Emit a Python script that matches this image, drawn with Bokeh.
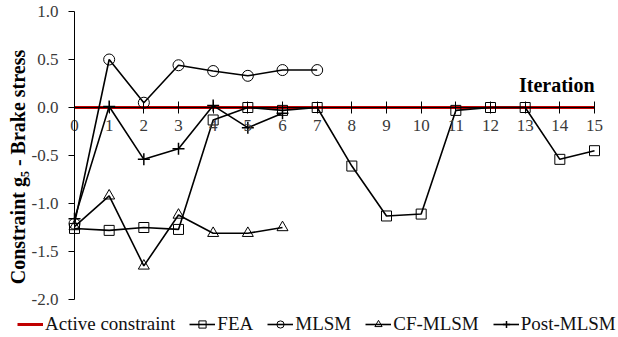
import math
from bokeh.plotting import figure
from bokeh.models import (Range1d, LinearAxis, SingleIntervalTicker, PrintfTickFormatter,
                          Legend, LegendItem, Label)
from bokeh.embed import file_html
from bokeh.resources import INLINE

# ---- data ----
iter_fea = list(range(16))
fea = [-1.26, -1.28, -1.25, -1.27, -0.13, 0.0, -0.03, 0.0, -0.61, -1.13, -1.11, -0.03, 0.0, 0.0, -0.54, -0.45]
iter_mlsm = list(range(8))
mlsm = [-1.21, 0.50, 0.05, 0.44, 0.38, 0.33, 0.39, 0.39]
iter_cf = list(range(7))
cf_mlsm = [-1.24, -0.92, -1.65, -1.12, -1.31, -1.31, -1.25]
iter_post = list(range(7))
post_mlsm = [-1.16, 0.01, -0.54, -0.43, 0.02, -0.21, -0.06]
active_x = [0, 15]
active_y = [0, 0]
x_ticks_interval = 1
y_ticks_interval = 0.5

FONT = "'Liberation Serif'"

p = figure(width=618, height=337, x_range=Range1d(-2.1346, 15.692), y_range=Range1d(-2.3958, 1.1146),
           output_backend="svg", toolbar_location=None, x_axis_type=None, y_axis_type=None,
           min_border_left=0, min_border_right=0, min_border_top=0, min_border_bottom=0)
p.outline_line_color = None
p.xgrid.visible = False
p.ygrid.visible = False
p.background_fill_color = "white"
p.border_fill_color = "white"

xaxis = LinearAxis(ticker=SingleIntervalTicker(interval=x_ticks_interval), fixed_location=0, bounds=(0, 15))
xaxis.major_tick_in = 6
xaxis.major_tick_out = 6
xaxis.minor_tick_line_color = None
xaxis.major_label_standoff = 6
xaxis.major_label_text_font = FONT
xaxis.major_label_text_font_size = "17px"
xaxis.major_label_text_color = "#3a3a3a"
xaxis.axis_line_color = "black"
xaxis.major_tick_line_color = "black"
p.add_layout(xaxis, "below")

yaxis = LinearAxis(ticker=SingleIntervalTicker(interval=y_ticks_interval),
                   formatter=PrintfTickFormatter(format="%.1f"), fixed_location=0, bounds=(-2, 1))
yaxis.major_tick_in = 0
yaxis.major_tick_out = 6
yaxis.minor_tick_line_color = None
yaxis.major_label_standoff = 10
yaxis.major_label_text_font = FONT
yaxis.major_label_text_font_size = "17px"
yaxis.major_label_text_color = "#3a3a3a"
yaxis.axis_line_color = "black"
yaxis.major_tick_line_color = "black"
p.add_layout(yaxis, "left")

r_act = p.line(active_x, active_y, line_color="#c00000", line_width=3)

def series(xs, ys, marker, size, lw=1.0):
    l = p.line(xs, ys, line_color="black", line_width=1.6)
    s = p.scatter(xs, ys, marker=marker, size=size, fill_color=None, line_color="black", line_width=lw)
    return [l, s]

r_fea = series(iter_fea, fea, "square", 10)
r_mlsm = series(iter_mlsm, mlsm, "circle", 11)
r_cf = series(iter_cf, cf_mlsm, "triangle", 11)
r_post = series(iter_post, post_mlsm, "cross", 12, 1.5)

legend = Legend(items=[
    LegendItem(label="Active constraint", renderers=[r_act]),
    LegendItem(label="FEA", renderers=r_fea),
    LegendItem(label="MLSM", renderers=r_mlsm),
    LegendItem(label="CF-MLSM", renderers=r_cf),
    LegendItem(label="Post-MLSM", renderers=r_post),
], orientation="horizontal", location=(17, 2))
legend.label_text_font = FONT
legend.label_text_font_size = "19px"
legend.label_text_color = "#111111"
legend.glyph_width = 26
legend.glyph_height = 18
legend.label_standoff = 2
legend.spacing = 14
legend.padding = 0
legend.margin = 0
legend.border_line_color = None
legend.background_fill_alpha = 0
p.add_layout(legend, "center")

ylab = Label(x=-1.644, y=-0.594, text="Constraint  g\u2085 - Brake stress", angle=math.pi / 2,
             text_align="center", text_baseline="middle", text_font=FONT,
             text_font_size="20px", text_font_style="bold", text_color="black")
p.add_layout(ylab)

xlab = Label(x=15, y=0.12, text="Iteration", text_align="right", text_baseline="bottom",
             text_font=FONT, text_font_size="20px", text_font_style="bold", text_color="black")
p.add_layout(xlab)

open("out.html", "w").write(file_html(p, INLINE))
